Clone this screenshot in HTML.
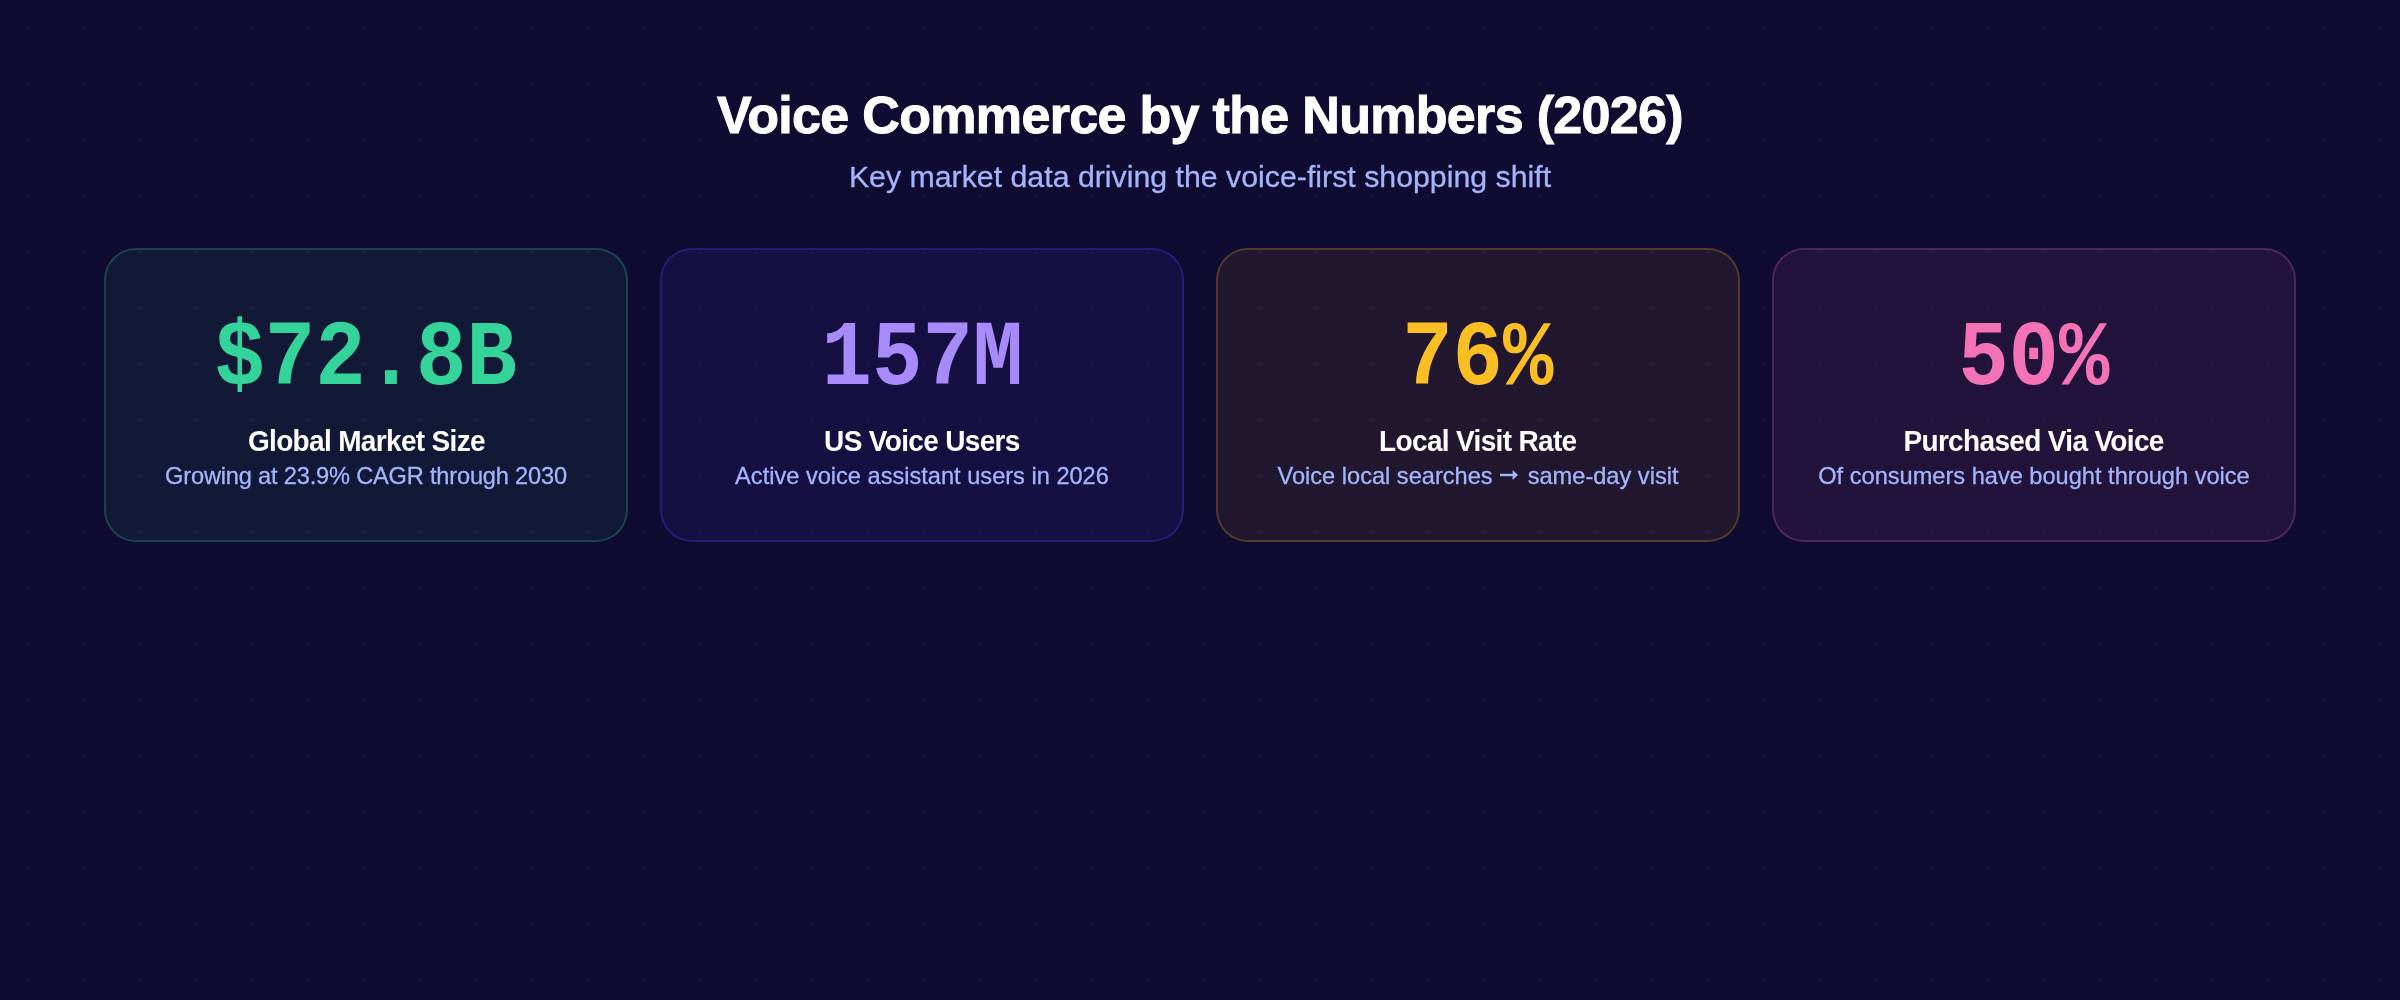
<!DOCTYPE html>
<html>
<head>
<meta charset="utf-8">
<style>
html,body{margin:0;padding:0;}
@media (min-width:1800px){html{zoom:2;}}
body{
  width:1200px;height:500px;overflow:hidden;position:relative;
  background-color:#100b30;
  background-image:radial-gradient(circle, rgba(255,255,255,0.035) 1px, transparent 1px);
  background-size:28px 28px;
  font-family:"Liberation Sans", sans-serif;
}
.title{position:absolute;left:0;width:1200px;text-align:center;top:42.5px;color:#fff;font-weight:bold;font-size:26px;line-height:30px;letter-spacing:-0.34px;-webkit-text-stroke:0.5px #fff;white-space:nowrap;}
.sub{position:absolute;left:0;width:1200px;text-align:center;top:79.5px;color:#a5b4fc;font-size:15.15px;line-height:18px;-webkit-text-stroke:0.15px #a5b4fc;white-space:nowrap;}
.card{position:absolute;top:124px;width:262px;height:147px;box-sizing:border-box;border-radius:16px;border:1px solid;}
.num{position:absolute;left:0;width:100%;text-align:center;font-family:"Liberation Mono", monospace;font-weight:bold;font-size:46px;line-height:50px;top:30px;white-space:nowrap;}
.num span,.lab span{display:inline-block;transform-origin:50% 50%;}
.num span{transform:scaleX(0.913);}
.lab span{transform:scaleX(0.96);}
.arr{display:inline-block;width:9px;height:5px;vertical-align:1.5px;margin:0 1.5px 0 0.5px;overflow:visible;}
.lab{position:absolute;left:0;width:100%;text-align:center;color:#fff;font-weight:bold;font-size:14.6px;line-height:16px;top:87.45px;letter-spacing:-0.35px;white-space:nowrap;}
.desc{position:absolute;left:0;width:100%;text-align:center;color:#a5b4fc;font-size:11.8px;line-height:14px;top:106px;-webkit-text-stroke:0.15px #a5b4fc;white-space:nowrap;}
.c1{left:52px;background:rgba(52,211,153,0.07);border-color:rgba(52,211,153,0.23);}
.c2{left:330px;background:rgba(80,58,250,0.09);border-color:rgba(88,58,250,0.3);}
.c3{left:608px;background:rgba(251,191,36,0.075);border-color:rgba(251,191,36,0.21);}
.c4{left:886px;background:rgba(244,114,182,0.08);border-color:rgba(244,114,182,0.22);}
.sub,.card{will-change:transform;}
.c1 .desc{letter-spacing:-0.09px;}
.c1 .num{color:#34d399;}
.c2 .num{color:#a78bfa;}
.c3 .num{color:#fbbf24;}
.c4 .num{color:#f472b6;}
</style>
</head>
<body>
<div class="title">Voice Commerce by the Numbers (2026)</div>
<div class="sub">Key market data driving the voice-first shopping shift</div>
<div class="card c1"><div class="num"><span>$72.8B</span></div><div class="lab"><span>Global Market Size</span></div><div class="desc">Growing at 23.9% CAGR through 2030</div></div>
<div class="card c2"><div class="num"><span>157M</span></div><div class="lab"><span>US Voice Users</span></div><div class="desc">Active voice assistant users in 2026</div></div>
<div class="card c3"><div class="num"><span>76%</span></div><div class="lab"><span>Local Visit Rate</span></div><div class="desc">Voice local searches <svg class="arr" viewBox="0 0 18 10"><path d="M0 2.8H13V5.2H0Z" fill="#a5b4fc"/><path d="M12.6 -1L18 4L12.6 9Z" fill="#a5b4fc"/></svg> same-day visit</div></div>
<div class="card c4"><div class="num"><span>50%</span></div><div class="lab"><span>Purchased Via Voice</span></div><div class="desc">Of consumers have bought through voice</div></div>
</body>
</html>
